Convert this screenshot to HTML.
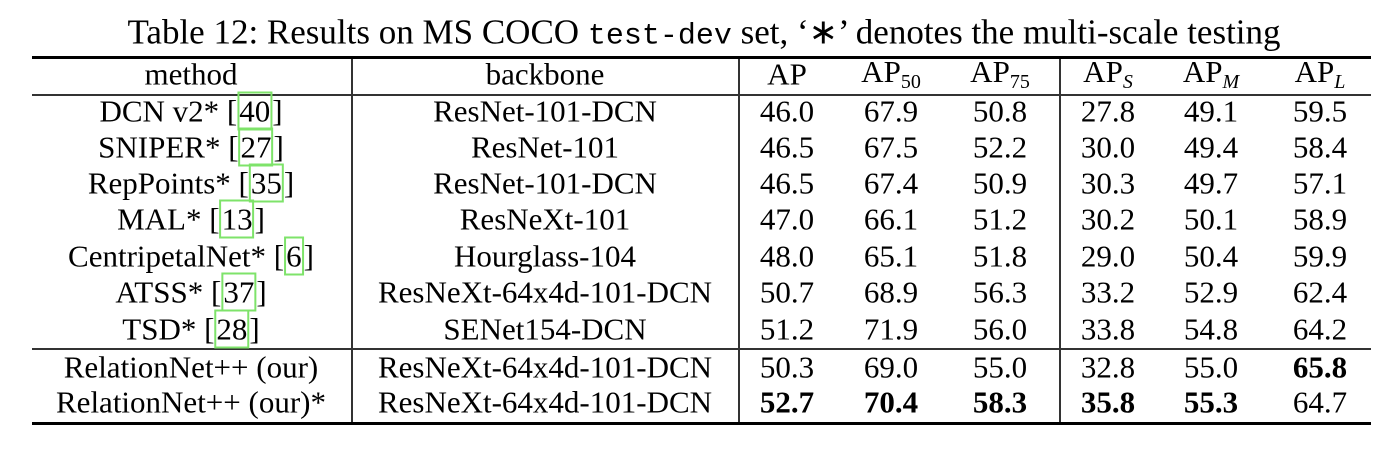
<!DOCTYPE html>
<html><head><meta charset="utf-8"><style>
body{margin:0;width:1382px;height:452px;background:#fff;position:relative;overflow:hidden;font-family:"Liberation Serif",serif;color:#000}
.t{position:absolute;white-space:nowrap;transform:translate(-50%,-50%);font-size:31px;line-height:1}
.h{position:absolute;background:#000}
.b{font-weight:bold}
.cite{border:2px solid #7ee36a;padding:0}
sub{font-size:20px;vertical-align:-6px}
.mono{font-family:"Liberation Mono",monospace;font-size:30px}
</style></head><body>
<div class="t" style="left:704px;top:33px;font-size:35px">Table 12: Results on MS COCO <span class="mono">test-dev</span> set, ‘∗’ denotes the multi-scale testing</div>
<div class="h" style="left:32px;top:56px;width:1339px;height:3px"></div>
<div class="h" style="left:32px;top:94px;width:1339px;height:1.5px;background:#333"></div>
<div class="h" style="left:32px;top:348px;width:1339px;height:1.5px;background:#333"></div>
<div class="h" style="left:32px;top:422px;width:1339px;height:3px"></div>
<div class="h" style="left:351px;top:59px;width:1.5px;height:363px;background:#333"></div>
<div class="h" style="left:738px;top:59px;width:1.5px;height:363px;background:#333"></div>
<div class="h" style="left:1059px;top:59px;width:1.5px;height:363px;background:#333"></div>
<div id="tbl"></div>
<script>
const xs=[191,545,787,891,1000,1108,1211,1320];
const headers=['method','backbone','AP','AP<sub>50</sub>','AP<sub>75</sub>','AP<sub><i>S</i></sub>','AP<sub><i>M</i></sub>','AP<sub><i>L</i></sub>'];
const methods=['DCN v2* [<span class="cite">40</span>]','SNIPER* [<span class="cite">27</span>]','RepPoints* [<span class="cite">35</span>]','MAL* [<span class="cite">13</span>]','CentripetalNet* [<span class="cite">6</span>]','ATSS* [<span class="cite">37</span>]','TSD* [<span class="cite">28</span>]','RelationNet++ (our)','RelationNet++ (our)*'];
const backbones=['ResNet-101-DCN','ResNet-101','ResNet-101-DCN','ResNeXt-101','Hourglass-104','ResNeXt-64x4d-101-DCN','SENet154-DCN','ResNeXt-64x4d-101-DCN','ResNeXt-64x4d-101-DCN'];
const values=[['46.0','67.9','50.8','27.8','49.1','59.5'],['46.5','67.5','52.2','30.0','49.4','58.4'],['46.5','67.4','50.9','30.3','49.7','57.1'],['47.0','66.1','51.2','30.2','50.1','58.9'],['48.0','65.1','51.8','29.0','50.4','59.9'],['50.7','68.9','56.3','33.2','52.9','62.4'],['51.2','71.9','56.0','33.8','54.8','64.2'],['50.3','69.0','55.0','32.8','55.0','65.8'],['52.7','70.4','58.3','35.8','55.3','64.7']];
const bold=[[7,5],[8,0],[8,1],[8,2],[8,3],[8,4]];
const ys=[111,147,183,219,256,292,329,367,402];
const root=document.getElementById('tbl');
function cell(html,x,y,cls,name){const d=document.createElement('div');d.className='t '+(cls||'');d.style.left=x+'px';d.style.top=y+'px';d.innerHTML=html;


root.appendChild(d);}
headers.forEach((h,i)=>cell(h,xs[i],74,'','header-'+i));
methods.forEach((m,r)=>{
cell(m,xs[0],ys[r],'','method-cell');
cell(backbones[r],xs[1],ys[r],'','backbone-cell');
values[r].forEach((v,c)=>{const isB=bold.some(b=>b[0]===r&&b[1]===c);cell(v,xs[c+2],ys[r],isB?'b':'','value-cell');});
});
</script>
</body></html>
